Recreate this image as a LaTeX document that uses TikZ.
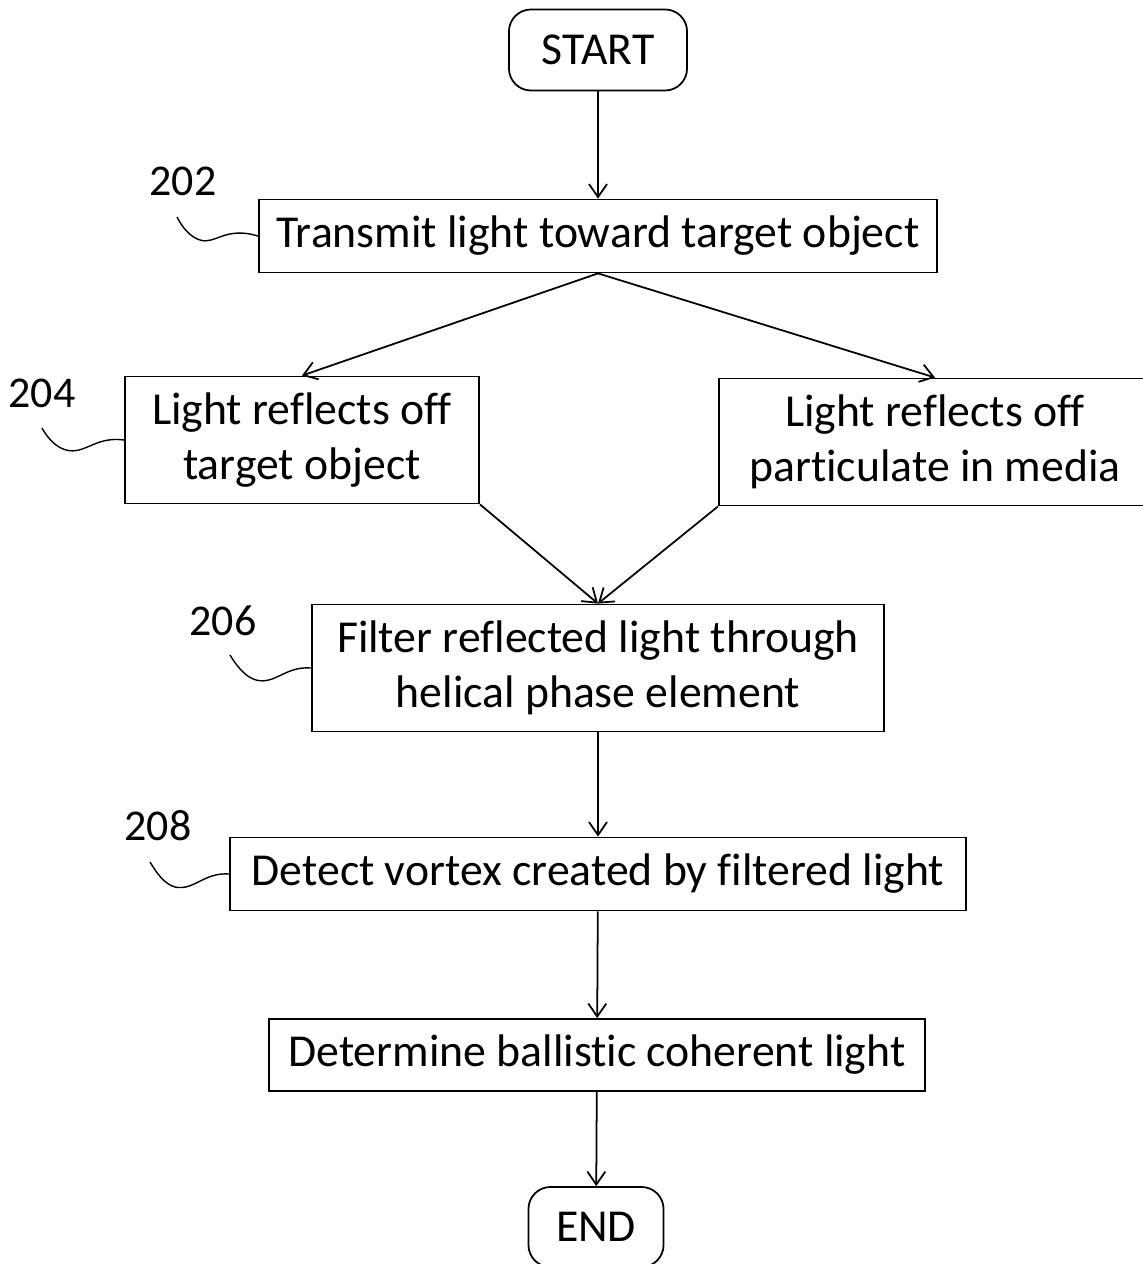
\documentclass[tikz,border=0pt]{standalone}
\usepackage{fontspec}
\setmainfont{Carlito}[Ligatures=NoCommon]
\usetikzlibrary{arrows.meta}

\begin{document}
\begin{tikzpicture}[x=0.01cm,y=-0.01cm,
    box/.style={draw,line width=0.5pt,align=center,inner sep=0pt,font=\fontsize{13}{15.5}\selectfont},
    term/.style={box,rounded corners=2.2mm},
    arr/.style={line width=0.5pt,-{Straight Barb[length=1.3mm,width=1.8mm]}},
    lbl/.style={font=\fontsize{12.5}{15}\selectfont},
    lead/.style={line width=0.4pt}]
    \clip (0,0) rectangle (1143,1264);
    \useasboundingbox (0,0) rectangle (1143,1264);
    % steps
    \node[term, minimum width=1.78cm, minimum height=0.81cm] (start) at (598,50) {START};
    \node[box, minimum width=6.78cm, minimum height=0.73cm] (s202) at (598,236) {Transmit light toward target object};
    \node[box, minimum width=3.54cm, minimum height=1.27cm] (s204) at (302,440) {Light reflects off\\target object};
    \node[box, minimum width=4.32cm, minimum height=1.27cm] (part) at (935,442) {Light reflects off\\particulate in media};
    \node[box, minimum width=5.72cm, minimum height=1.27cm] (s206) at (598,668) {Filter reflected light through\\helical phase element};
    \node[box, minimum width=7.35cm, minimum height=0.73cm] (s208) at (598,874) {Detect vortex created by filtered light};
    \node[box, minimum width=6.55cm, minimum height=0.72cm] (ball) at (597,1055) {Determine ballistic coherent light};
    \node[term, minimum width=1.35cm, minimum height=0.80cm] (end) at (596,1227) {END};
    % arrows
    \draw[arr] (start) -- (s202);
    \draw[arr] (s202.south) -- (s204.north);
    \draw[arr] (s202.south) -- (part.north);
    \draw[arr] (s204.south east) -- (s206.north);
    \draw[arr] (part.south west) -- (s206.north);
    \draw[arr] (s206) -- (s208);
    \draw[arr] (s208) -- (ball);
    \draw[arr] (ball) -- (end);
    % reference numerals
    \node[lbl] (n202) at (183,181) {202};
    \node[lbl] (n204) at (42,393) {204};
    \node[lbl] (n206) at (223,621) {206};
    \node[lbl] (n208) at (158,826) {208};
    \coordinate (e202) at (177,217);
    \coordinate (e204) at (42,428);
    \coordinate (e206) at (230,655);
    \coordinate (e208) at (150,862);
    \draw[lead] (s202.west) .. controls (225,226) and (215,245) .. (200,240) .. controls (190,237) and (182,227) .. (e202);
    \draw[lead] (s204.west) .. controls (95,436) and (85,455) .. (66,450) .. controls (55,447) and (47,437) .. (e204);
    \draw[lead] (s206.west) .. controls (285,666) and (275,685) .. (256,680) .. controls (245,677) and (236,665) .. (e206);
    \draw[lead] (s208.west) .. controls (204,872) and (194,891) .. (175,887) .. controls (164,884) and (156,872) .. (e208);
\end{tikzpicture}
\end{document}
